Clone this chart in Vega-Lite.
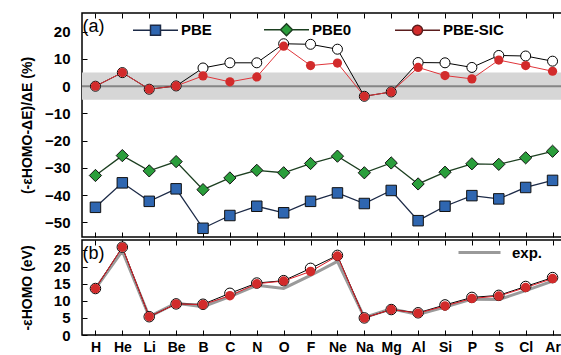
{
  "$schema": "https://vega.github.io/schema/vega-lite/v6.json",
  "padding": {"left": 19, "top": 5, "right": 0, "bottom": 0},
  "background": "white",
  "datasets": {
    "a": [
      {"el": "H", "PBE": -44.5, "PBE0": -32.8, "PBE-SIC": 0, "open": 0},
      {"el": "He", "PBE": -35.5, "PBE0": -25.5, "PBE-SIC": 5.0, "open": 5.0},
      {"el": "Li", "PBE": -42.3, "PBE0": -31.1, "PBE-SIC": -1.1, "open": -1.1},
      {"el": "Be", "PBE": -37.7, "PBE0": -27.7, "PBE-SIC": 0.1, "open": 0.1},
      {"el": "B", "PBE": -52.2, "PBE0": -38.0, "PBE-SIC": 3.8, "open": 6.7},
      {"el": "C", "PBE": -47.5, "PBE0": -33.7, "PBE-SIC": 1.6, "open": 8.6},
      {"el": "N", "PBE": -44.1, "PBE0": -30.9, "PBE-SIC": 3.4, "open": 8.6},
      {"el": "O", "PBE": -46.5, "PBE0": -31.8, "PBE-SIC": 14.7, "open": 15.6},
      {"el": "F", "PBE": -42.3, "PBE0": -28.4, "PBE-SIC": 7.6, "open": 15.4},
      {"el": "Ne", "PBE": -39.2, "PBE0": -25.7, "PBE-SIC": 8.5, "open": 13.6},
      {"el": "Na", "PBE": -43.1, "PBE0": -31.8, "PBE-SIC": -3.7, "open": -3.7},
      {"el": "Mg", "PBE": -38.3, "PBE0": -28.2, "PBE-SIC": -2.1, "open": -2.1},
      {"el": "Al", "PBE": -49.4, "PBE0": -35.9, "PBE-SIC": 6.9, "open": 8.7},
      {"el": "Si", "PBE": -44.1, "PBE0": -31.6, "PBE-SIC": 3.9, "open": 8.6},
      {"el": "P", "PBE": -40.2, "PBE0": -28.5, "PBE-SIC": 2.7, "open": 6.9},
      {"el": "S", "PBE": -41.4, "PBE0": -28.7, "PBE-SIC": 9.6, "open": 11.3},
      {"el": "Cl", "PBE": -37.2, "PBE0": -26.3, "PBE-SIC": 7.6, "open": 11.1},
      {"el": "Ar", "PBE": -34.6, "PBE0": -23.9, "PBE-SIC": 5.5, "open": 9.2}
    ],
    "b": [
      {"el": "H", "exp": 13.6, "sic": 13.6, "open": 13.6},
      {"el": "He", "exp": 24.59, "sic": 25.7, "open": 25.7},
      {"el": "Li", "exp": 5.39, "sic": 5.35, "open": 5.35},
      {"el": "Be", "exp": 9.32, "sic": 9.1, "open": 9.1},
      {"el": "B", "exp": 8.3, "sic": 8.9, "open": 9.0},
      {"el": "C", "exp": 11.26, "sic": 11.5, "open": 12.2},
      {"el": "N", "exp": 14.53, "sic": 15.0, "open": 15.2},
      {"el": "O", "exp": 13.62, "sic": 15.8, "open": 15.9},
      {"el": "F", "exp": 17.42, "sic": 18.6, "open": 19.5},
      {"el": "Ne", "exp": 21.56, "sic": 23.1, "open": 23.3},
      {"el": "Na", "exp": 5.14, "sic": 5.0, "open": 5.0},
      {"el": "Mg", "exp": 7.65, "sic": 7.45, "open": 7.45},
      {"el": "Al", "exp": 5.99, "sic": 6.4, "open": 6.5},
      {"el": "Si", "exp": 8.15, "sic": 8.5, "open": 8.8},
      {"el": "P", "exp": 10.49, "sic": 10.7, "open": 11.0},
      {"el": "S", "exp": 10.36, "sic": 11.4, "open": 11.6},
      {"el": "Cl", "exp": 12.97, "sic": 13.9, "open": 14.2},
      {"el": "Ar", "exp": 15.76, "sic": 16.5, "open": 16.8}
    ]
  },
  "config": {
    "font": "Liberation Sans",
    "view": {"stroke": "black", "strokeWidth": 1.5},
    "axis": {
      "labelFont": "Liberation Sans", "labelFontSize": 15, "labelFontWeight": "bold", "labelColor": "black",
      "tickColor": "black", "tickSize": -5, "tickWidth": 1, "domain": false, "grid": false,
      "titleFont": "Liberation Sans", "titleFontSize": 14, "titleFontWeight": "bold", "titleColor": "black"
    },
    "legend": {
      "labelFont": "Liberation Sans", "labelFontSize": 15, "labelFontWeight": "bold", "labelColor": "black",
      "padding": 0
    }
  },
  "vconcat": [
    {
      "width": 484,
      "height": 224,
      "data": {"name": "a"},
      "resolve": {"axis": {"x": "independent", "y": "independent"}},
      "layer": [
        {
          "data": {"values": [{}]},
          "mark": {"type": "rect", "color": "#d6d6d6"},
          "encoding": {
            "y": {"datum": -5, "type": "quantitative", "scale": {"domain": [-55.4, 26.9], "nice": false, "zero": false}, "axis": null},
            "y2": {"datum": 5}
          }
        },
        {
          "data": {"values": [{}]},
          "mark": {"type": "rule", "color": "#858585", "strokeWidth": 2},
          "encoding": {
            "y": {"datum": 0, "type": "quantitative", "axis": null}
          }
        },
        {
          "mark": {"type": "line", "color": "#1c2a47", "strokeWidth": 1.3},
          "encoding": {
            "x": {"field": "el", "type": "ordinal", "sort": null, "scale": {"type": "point", "padding": 0.5, "domain": ["H","He","Li","Be","B","C","N","O","F","Ne","Na","Mg","Al","Si","P","S","Cl","Ar"]}, "axis": null},
            "y": {"field": "PBE", "type": "quantitative", "axis": null}
          }
        },
        {
          "mark": {"type": "line", "color": "#1c3f20", "strokeWidth": 1.3},
          "encoding": {
            "x": {"field": "el", "type": "ordinal", "sort": null, "axis": null},
            "y": {"field": "PBE0", "type": "quantitative", "axis": null}
          }
        },
        {
          "mark": {"type": "line", "color": "black", "strokeWidth": 1},
          "encoding": {
            "x": {"field": "el", "type": "ordinal", "sort": null, "axis": null},
            "y": {"field": "open", "type": "quantitative", "axis": null}
          }
        },
        {
          "mark": {"type": "line", "color": "#e0353a", "strokeWidth": 1},
          "encoding": {
            "x": {"field": "el", "type": "ordinal", "sort": null, "axis": null},
            "y": {"field": "PBE-SIC", "type": "quantitative", "axis": null}
          }
        },
        {
          "mark": {"type": "point", "shape": "square", "filled": true, "fill": "#2f66b0", "stroke": "#111111", "strokeWidth": 1, "size": 110, "opacity": 1},
          "encoding": {
            "x": {"field": "el", "type": "ordinal", "sort": null, "axis": {"orient": "top", "labels": false, "title": null}},
            "y": {"field": "PBE", "type": "quantitative", "axis": {"orient": "right", "labels": false, "title": null, "values": [-50,-40,-30,-20,-10,0,10,20]}}
          }
        },
        {
          "mark": {"type": "point", "shape": "diamond", "filled": true, "fill": "#2a9e3b", "stroke": "#111111", "strokeWidth": 1, "size": 150, "opacity": 1},
          "encoding": {
            "x": {"field": "el", "type": "ordinal", "sort": null, "axis": {"labels": false, "title": null}},
            "y": {"field": "PBE0", "type": "quantitative", "axis": {"values": [-50,-40,-30,-20,-10,0,10,20], "title": "(-εHOMO-ΔE)/ΔE  (%)", "titleX": -48, "labelPadding": 17}}
          }
        },
        {
          "mark": {"type": "point", "shape": "circle", "filled": true, "fill": "white", "stroke": "black", "strokeWidth": 1, "size": 100, "opacity": 1},
          "encoding": {
            "x": {"field": "el", "type": "ordinal", "sort": null, "axis": null},
            "y": {"field": "open", "type": "quantitative", "axis": null}
          }
        },
        {
          "mark": {"type": "point", "shape": "circle", "filled": true, "fill": "#d22b2b", "strokeWidth": 0, "size": 85, "opacity": 1},
          "encoding": {
            "x": {"field": "el", "type": "ordinal", "sort": null, "axis": null},
            "y": {"field": "PBE-SIC", "type": "quantitative", "axis": null}
          }
        },
        {
          "data": {"values": [{"label": "(a)"}]},
          "mark": {"type": "text", "align": "left", "baseline": "top", "dx": -13, "dy": 5, "fontSize": 18, "font": "Liberation Sans", "color": "black"},
          "encoding": {
            "x": {"datum": "H", "type": "ordinal", "axis": null},
            "y": {"datum": 26.9, "type": "quantitative", "axis": null},
            "text": {"field": "label"}
          }
        },
        {
          "transform": [{"fold": ["PBE", "PBE0", "PBE-SIC"], "as": ["series", "pct"]}],
          "mark": {"type": "point", "filled": true, "opacity": 0},
          "encoding": {
            "x": {"field": "el", "type": "ordinal", "sort": null, "axis": null},
            "y": {"field": "pct", "type": "quantitative", "axis": null},
            "shape": {"field": "series", "type": "nominal",
              "scale": {"domain": ["PBE", "PBE0", "PBE-SIC"], "range": [
                "M-1,0H-0.222M0.222,0H1M-0.222,-0.222H0.222V0.222H-0.222Z",
                "M-1,0H-0.267M0.267,0H1M0,-0.267L0.267,0L0,0.267L-0.267,0Z",
                "M-1,0H-0.222M0.222,0H1M0.222,0A0.222,0.222 0 1,1 -0.222,0A0.222,0.222 0 1,1 0.222,0Z"
              ]},
              "legend": {"title": null, "orient": "none", "legendX": 50, "legendY": -7, "direction": "horizontal", "columns": 3, "gridAlign": "all", "symbolSize": 2025, "symbolStrokeWidth": 1.5, "symbolOpacity": 1, "labelOffset": 2, "columnPadding": 19}},
            "fill": {"field": "series", "type": "nominal",
              "scale": {"domain": ["PBE", "PBE0", "PBE-SIC"], "range": ["#2f66b0", "#2a9e3b", "#d22b2b"]},
              "legend": {"title": null, "orient": "none", "legendX": 50, "legendY": -7, "direction": "horizontal", "columns": 3, "gridAlign": "all", "symbolSize": 2025, "symbolStrokeWidth": 1.5, "symbolOpacity": 1, "labelOffset": 2, "columnPadding": 19}},
            "stroke": {"field": "series", "type": "nominal",
              "scale": {"domain": ["PBE", "PBE0", "PBE-SIC"], "range": ["#1c2a47", "#1c3f20", "#5a1d1d"]},
              "legend": {"title": null, "orient": "none", "legendX": 50, "legendY": -7, "direction": "horizontal", "columns": 3, "gridAlign": "all", "symbolSize": 2025, "symbolStrokeWidth": 1.5, "symbolOpacity": 1, "labelOffset": 2, "columnPadding": 19}}
          }
        }
      ]
    },
    {
      "width": 484,
      "height": 95,
      "data": {"name": "b"},
      "resolve": {"axis": {"x": "independent", "y": "independent"}},
      "layer": [
        {
          "mark": {"type": "line", "strokeWidth": 3},
          "encoding": {
            "x": {"field": "el", "type": "ordinal", "sort": null, "scale": {"type": "point", "padding": 0.5, "domain": ["H","He","Li","Be","B","C","N","O","F","Ne","Na","Mg","Al","Si","P","S","Cl","Ar"]}, "axis": null},
            "y": {"field": "exp", "type": "quantitative", "scale": {"domain": [0, 27.8], "nice": false, "zero": false}, "axis": null},
            "stroke": {"datum": "exp.", "type": "nominal", "scale": {"domain": ["exp."], "range": ["#9a9a9a"]},
              "legend": {"title": null, "orient": "none", "legendX": 375, "legendY": -10, "symbolType": "stroke", "symbolSize": 1764, "symbolStrokeWidth": 3, "labelOffset": 10}}
          }
        },
        {
          "mark": {"type": "line", "color": "black", "strokeWidth": 1},
          "encoding": {
            "x": {"field": "el", "type": "ordinal", "sort": null, "axis": null},
            "y": {"field": "open", "type": "quantitative", "axis": null}
          }
        },
        {
          "mark": {"type": "line", "color": "#e0202a", "strokeWidth": 1},
          "encoding": {
            "x": {"field": "el", "type": "ordinal", "sort": null, "axis": null},
            "y": {"field": "sic", "type": "quantitative", "axis": null}
          }
        },
        {
          "mark": {"type": "point", "shape": "circle", "filled": true, "fill": "white", "stroke": "black", "strokeWidth": 1, "size": 110, "opacity": 1},
          "encoding": {
            "x": {"field": "el", "type": "ordinal", "sort": null, "axis": {"orient": "top", "labels": false, "title": null}},
            "y": {"field": "open", "type": "quantitative", "axis": {"orient": "right", "labels": false, "title": null, "values": [0,5,10,15,20,25]}}
          }
        },
        {
          "mark": {"type": "point", "shape": "circle", "filled": true, "fill": "#d22b2b", "strokeWidth": 0, "size": 90, "opacity": 1},
          "encoding": {
            "x": {"field": "el", "type": "ordinal", "sort": null, "axis": {"title": null, "labelPadding": 10, "labelFontSize": 14, "labelAngle": 0}},
            "y": {"field": "sic", "type": "quantitative", "axis": {"values": [0,5,10,15,20,25], "title": "-εHOMO  (eV)", "titleX": -48, "labelPadding": 17}}
          }
        },
        {
          "data": {"values": [{"label": "(b)"}]},
          "mark": {"type": "text", "align": "left", "baseline": "top", "dx": -13, "dy": 5, "fontSize": 18, "font": "Liberation Sans", "color": "black"},
          "encoding": {
            "x": {"datum": "H", "type": "ordinal", "axis": null},
            "y": {"datum": 27.8, "type": "quantitative", "axis": null},
            "text": {"field": "label"}
          }
        }
      ]
    }
  ],
  "spacing": 3,
  "bounds": "flush",
  "resolve": {
    "scale": {"stroke": "independent", "fill": "independent", "shape": "independent"},
    "legend": {"stroke": "independent", "fill": "independent", "shape": "independent"}
  }
}
